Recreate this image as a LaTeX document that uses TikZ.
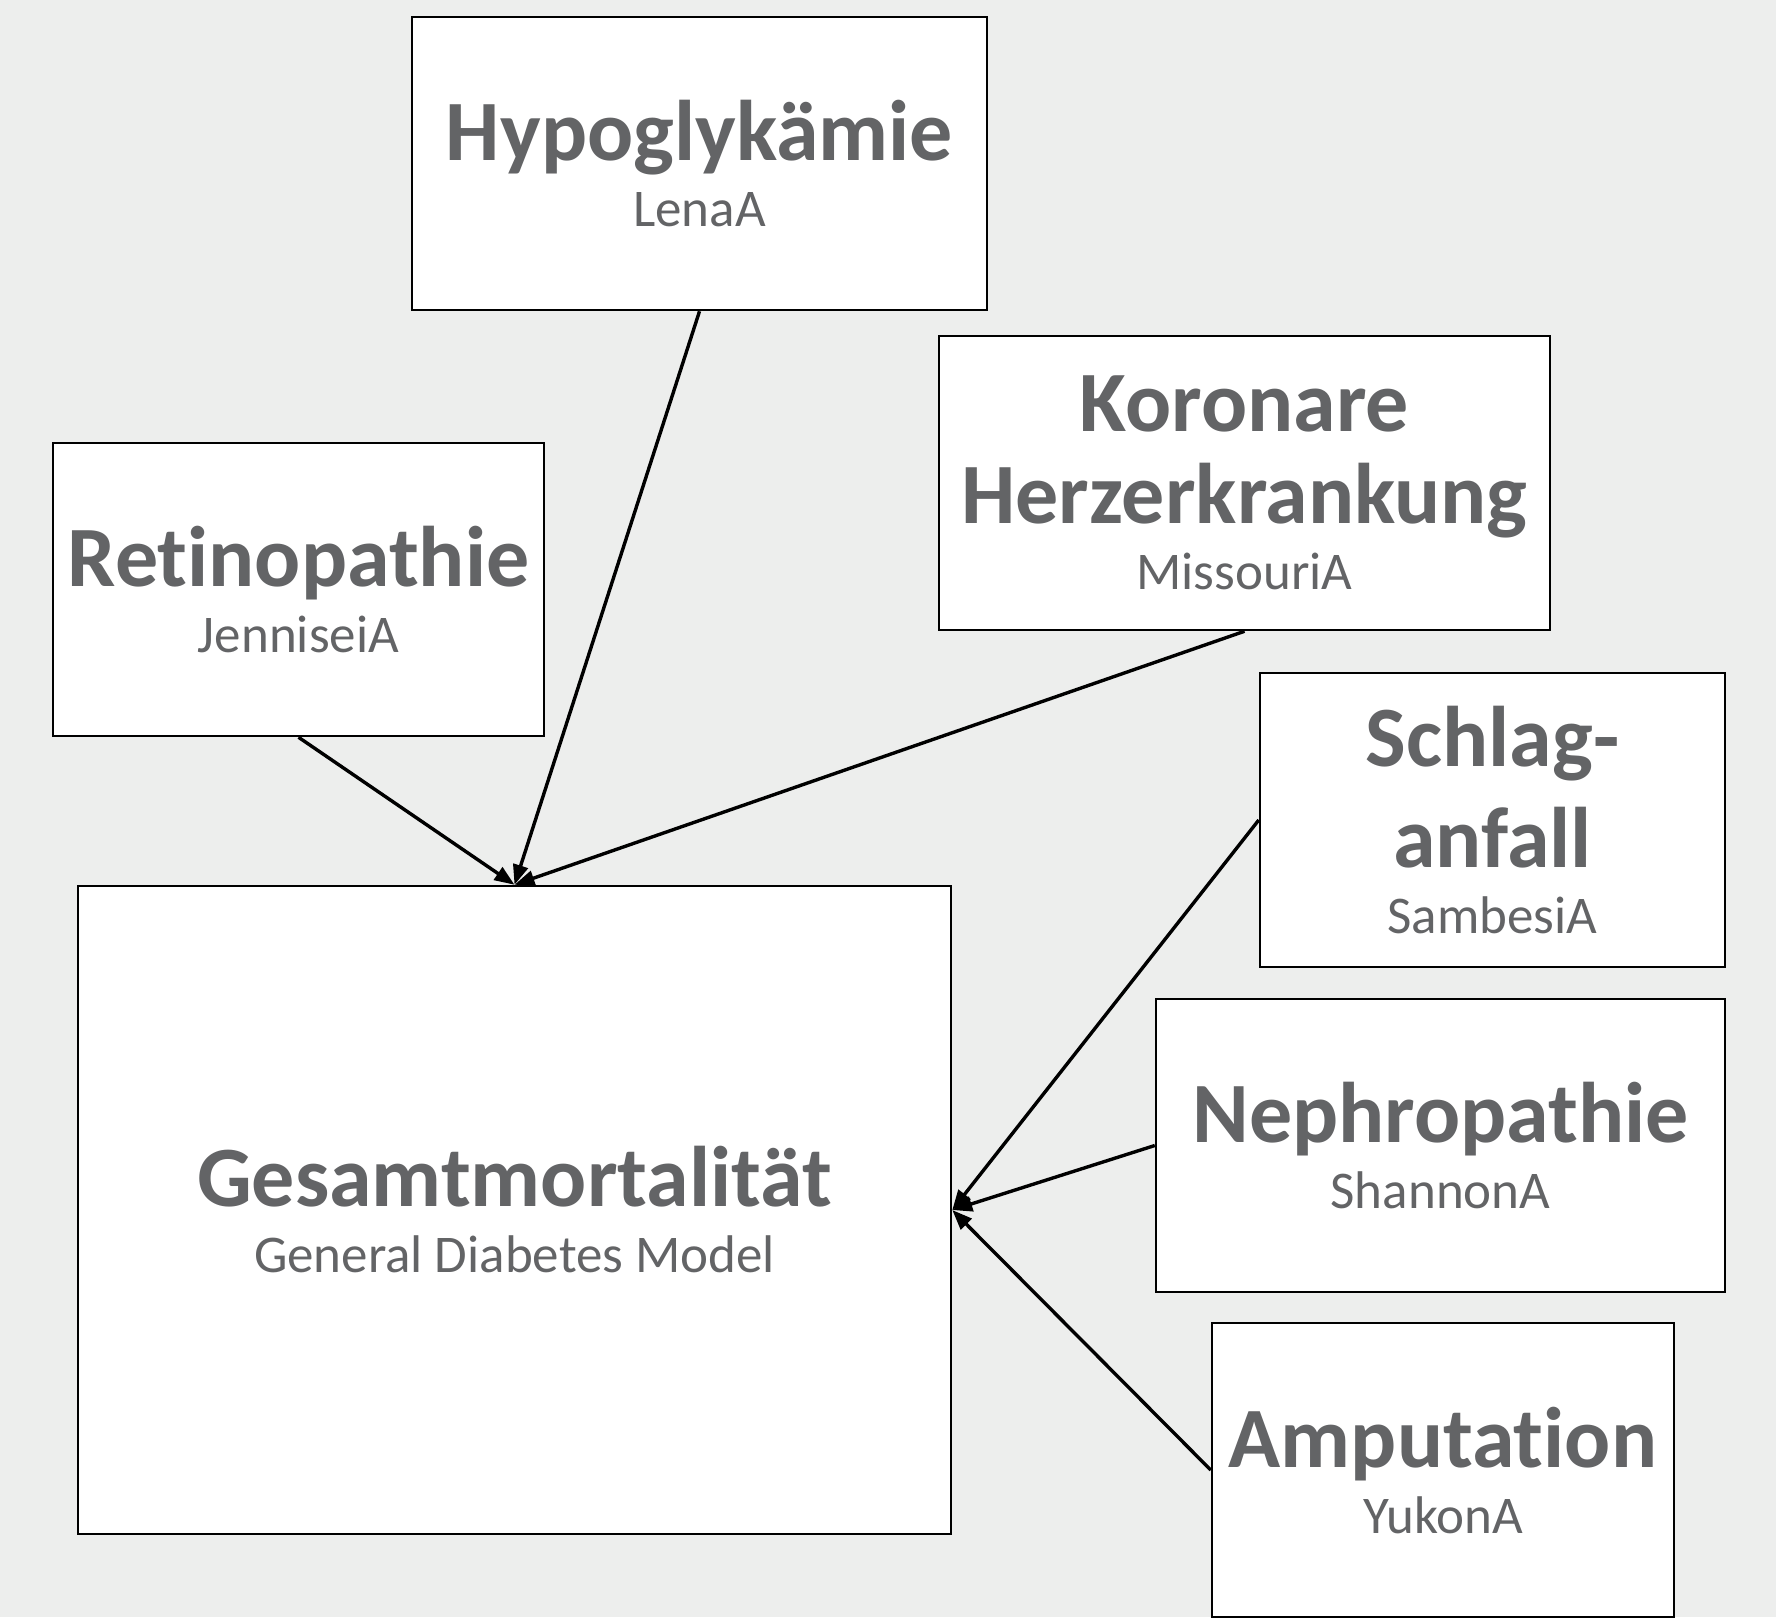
\documentclass[tikz,border=0pt]{standalone}
\usepackage{fontspec}
\setmainfont[Ligatures=NoCommon,RawFeature=-liga]{Carlito}
\usetikzlibrary{arrows.meta}

\definecolor{bggray}{HTML}{EDEEED}
\definecolor{txtgray}{HTML}{636466}

\newcommand{\ttl}{\fontsize{86}{93}\selectfont\bfseries}
\newcommand{\sub}{\fontsize{53}{66}\selectfont\mdseries}

\tikzset{
    box/.style={draw=black, line width=2.5pt, fill=white, inner sep=0pt,
        align=center, text=txtgray, font=\sub},
}

\begin{document}
\begin{tikzpicture}[x=1pt, y=-1pt, >={Triangle[length=20pt,width=15pt]}]
            \fill[bggray] (0,0) rectangle (1776,1617);
            \useasboundingbox (0,0) rectangle (1776,1617);

            \begin{scope}[every node/.style={box}]
                \node[minimum width=575pt, minimum height=293pt] (hypo) at (699.5,163.5) {\ttl Hypoglykämie\\\sub LenaA};
                \node[minimum width=491pt, minimum height=293pt] (retino) at (298.5,589.5) {\ttl Retinopathie\\\sub JenniseiA};
                \node[minimum width=611pt, minimum height=294pt] (khk) at (1244.5,483) {\ttl Koronare\\[26pt]\ttl Herzerkrankung\\\sub MissouriA};
                \node[minimum width=465pt, minimum height=294pt] (schlag) at (1492.5,820) {\ttl Schlag-\\[26pt]\ttl anfall\\\sub SambesiA};
                \node[minimum width=569pt, minimum height=293pt] (nephro) at (1440.5,1145.5) {\ttl Nephropathie\\\sub ShannonA};
                \node[minimum width=462pt, minimum height=294pt] (amput) at (1443,1470) {\ttl Amputation\\\sub YukonA};
                \node[minimum width=873pt, minimum height=648pt] (gesamt) at (514.5,1210) {\ttl Gesamtmortalität\\\sub General Diabetes Model};
            \end{scope}

            \begin{scope}[line width=3.4pt]
                \path [->] (retino.south) edge (gesamt.north);
                \path [->] (hypo.south) edge (gesamt.north);
                \path [->] (khk.south) edge (gesamt.north);
                \path [->] (schlag.west) edge (gesamt.east);
                \path [->] (nephro.west) edge (gesamt.east);
                \path [->] (amput.west) edge (gesamt.east);
            \end{scope}
            \end{tikzpicture}
\end{document}
